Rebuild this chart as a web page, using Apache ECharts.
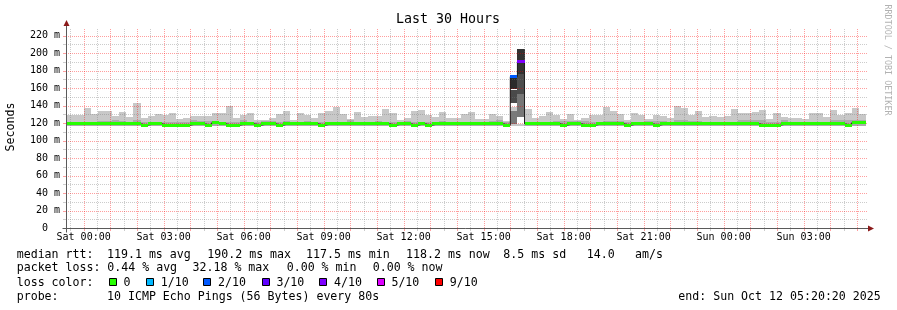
<!DOCTYPE html>
<html><head><meta charset="utf-8">
<script src="https://cdn.jsdelivr.net/npm/echarts@6/dist/echarts.min.js"></script>
<style>html,body{margin:0;padding:0;background:#fff}#c{width:897px;height:310px}</style>
</head><body><div id="c"></div>
<script>
// ---------- DATA ----------
// 16-minute bins, bin index k relative to Sat 00:00 (first bin k = -3)
const FIRST_BIN = -3;
const BIN_MINUTES = 16;
// graph window: Fri 23:20:20 .. Sun 05:20:20 (hours relative to Sat 00:00)
const X_START_HOURS = -2380 / 3600;
const X_SPAN_HOURS = 30;

// top of smoke (max ping, ms) per bin
const smokeMax = [
  129, 129, 129,
  136.8, 130.7, 133.4, 133.4, 128, 132.2, 126.5, 142.8, 125.4, 128,
  130, 129, 131, 124.2, 125.4, 128, 127.5, 128, 131.4, 131.4,
  139.4, 125.4, 129, 131, 123, 123, 126, 130.3, 133.4, 123,
  131, 129, 125.4, 131, 134.1, 138, 130.3, 125, 132.2, 126.9,
  128, 128, 135.6, 131, 123, 125.4, 133.4, 134.5, 129, 126.9,
  132.2, 125.4, 125.4, 130, 132.6, 124.2, 124.2, 130, 127.7, 122,
  171.3, 205, 135.6, 126.2, 127.7, 132.2, 128.8, 124.2, 130, 123,
  125.4, 129.2, 129.2, 138, 133.4, 130, 123, 131, 128.8, 124.2,
  128.8, 127.7, 125.4, 139.4, 136.8, 129.2, 133.4, 126.5, 127.7, 126.5,
  128, 135.6, 131.4, 131.4, 132.2, 134.5, 124.2, 131, 126.9, 125.5,
  125.5, 124.2, 131, 131, 126.5, 134.5, 129, 131, 136.8, 130
];
// top of the denser inner smoke band (ms)
const smokeMid = [
  121, 121, 121,
  121, 121, 122.5, 122.5, 123.5, 122, 121, 123, 121, 121,
  121, 121, 121, 121, 121, 123.5, 122.5, 122.5, 121, 121,
  121, 121, 123, 121, 121, 122, 122, 121, 122.5, 121,
  121, 122.5, 121, 121, 121, 121, 121, 123, 121, 121,
  121, 122.5, 121, 121, 121, 122, 121, 121, 121, 121,
  122, 121, 121, 121, 121, 121, 121, 122.5, 123, 121,
  121, 121, 121, 121, 121, 121, 122, 122, 122, 122,
  122, 121, 121, 122.5, 122.5, 122.5, 121, 121, 121, 122,
  122, 122, 121, 123.3, 123.3, 122, 122, 121, 121, 121,
  121, 121, 123, 123, 123, 123, 121, 121, 123.5, 121,
  121, 121, 121, 121, 121, 123, 123, 123.5, 123.5, 123.5
];
// bottom of smoke (min ping, ms)
const smokeMin = [
  117, 117, 117,
  117, 117, 117, 117, 117, 117, 117, 117, 117, 117,
  117, 117, 117, 117, 117, 117, 117, 117, 117, 117,
  117, 117, 117, 117, 117, 117, 117, 117, 117, 117,
  117, 117, 117, 117, 117, 117, 117, 117, 117, 117,
  117, 117, 117, 117, 117, 117, 117, 117, 117, 117,
  117, 117, 117, 117, 117, 117, 117, 117, 117, 117,
  116.3, 116.3, 117, 117, 117, 117, 117, 117, 117, 117,
  117, 117, 117, 117, 117, 117, 117, 117, 117, 117,
  117, 117, 117, 117, 117, 117, 117, 117, 117, 117,
  117, 117, 117, 117, 117, 117, 117, 117, 117, 117,
  117, 117, 117, 117, 117, 117, 117, 117, 117, 117
];
// median rtt (ms)
const median = [
  119, 119, 119,
  119, 119, 119, 119, 119, 119, 119, 119, 117.6, 119,
  119, 117.6, 117.6, 117.6, 117.6, 119, 119, 117.6, 120.2, 119,
  117.6, 117.6, 119, 119, 117.6, 119, 119, 117.6, 119, 119,
  119, 119, 119, 117.6, 119, 119, 119, 119, 119, 119,
  119, 119, 119, 117.6, 119, 119, 117.6, 119, 117.6, 119,
  119, 119, 119, 119, 119, 119, 119, 119, 119, 117.6,
  173, 190.2, 119, 119, 119, 119, 119, 117.6, 119, 119,
  117.6, 117.6, 119, 119, 119, 119, 117.6, 119, 119, 119,
  117.6, 119, 119, 119, 119, 119, 119, 119, 119, 119,
  119, 119, 119, 119, 119, 117.6, 117.6, 117.6, 119, 119,
  119, 119, 119, 119, 119, 119, 119, 117.6, 120.2, 120.2
];
// packet loss (%)
const lossPct = [
  0, 0, 0,
  0, 0, 0, 0, 0, 0, 0, 0, 0, 0,
  0, 0, 0, 0, 0, 0, 0, 0, 0, 0,
  0, 0, 0, 0, 0, 0, 0, 0, 0, 0,
  0, 0, 0, 0, 0, 0, 0, 0, 0, 0,
  0, 0, 0, 0, 0, 0, 0, 0, 0, 0,
  0, 0, 0, 0, 0, 0, 0, 0, 0, 0,
  20, 32.18, 0, 0, 0, 0, 0, 0, 0, 0,
  0, 0, 0, 0, 0, 0, 0, 0, 0, 0,
  0, 0, 0, 0, 0, 0, 0, 0, 0, 0,
  0, 0, 0, 0, 0, 0, 0, 0, 0, 0,
  0, 0, 0, 0, 0, 0, 0, 0, 0, 0
];
// smoke bands (ms, bottom->top) of the two lossy bins around the spike
const spikeBands60 = [[116.3, 119.4], [119.4, 133.8], [133.8, 138.3], [142.8, 158.1], [159.2, 171.3]];
const spikeBands61 = [[116.3, 119.3], [127, 153.5], [153.5, 176.3], [176.3, 205]];

const xTickHours = [0, 3, 6, 9, 12, 15, 18, 21, 24, 27];
const xTickLabels = ['Sat 00:00', 'Sat 03:00', 'Sat 06:00', 'Sat 09:00', 'Sat 12:00', 'Sat 15:00', 'Sat 18:00', 'Sat 21:00', 'Sun 00:00', 'Sun 03:00'];
const yTickValues = [0, 20, 40, 60, 80, 100, 120, 140, 160, 180, 200, 220];
const lossKeys = [0, 1, 2, 3, 4, 5, 9];
const lossLabels = ['0', '1/10', '2/10', '3/10', '4/10', '5/10', '9/10'];
const statsMedian = ['median rtt:', '119.1 ms avg', '190.2 ms max', '117.5 ms min', '118.2 ms now', '8.5 ms sd', '14.0', 'am/s'];
const statsLoss = ['packet loss:', '0.44 % avg', '32.18 % max', '0.00 % min', '0.00 % now'];
const probeText = ['probe:', '10 ICMP Echo Pings (56 Bytes) every 80s', 'end: Sun Oct 12 05:20:20 2025'];
const titleText = 'Last 30 Hours';
const yName = 'Seconds';
const watermark = 'RRDTOOL / TOBI OETIKER';

// ---------- STYLE ----------
const MONO = '"DejaVu Sans Mono", monospace';
const LIGHT = '#c8c8c8', MIDGRAY = '#ababab';
const lossColors = ['#26ff00', '#00b8ff', '#0059ff', '#5e00ff', '#7e00ff', '#dd00ff', '#ff0000'];
const spikeShades = {60: ['#c8c8c8', '#7a7a7a', '#c8c8c8', '#4a4a4a', '#2b2b2b'], 61: ['#c8c8c8', '#777777', '#4d4d4d', '#333333']};
const spikeBands = {60: spikeBands60, 61: spikeBands61};
const MAJOR = 'rgba(255,0,0,0.38)', MINOR = 'rgba(120,120,120,0.38)';

const X_MIN = X_START_HOURS, X_MAX = X_START_HOURS + X_SPAN_HOURS, Y_MAX = 228.6;

function lossColor(p) {
  const t = p / 10;
  if (t <= 0) return lossColors[0];
  for (let j = 1; j < lossKeys.length; j++) if (t <= lossKeys[j] + 1e-9) return lossColors[j];
  return lossColors[lossColors.length - 1];
}

const binData = smokeMax.map((hi, i) => {
  const k = FIRST_BIN + i;
  const x0 = Math.max(X_MIN, k * BIN_MINUTES / 60);
  const x1 = Math.min(X_MAX, (k + 1) * BIN_MINUTES / 60);
  return [x0, x1, smokeMin[i], smokeMid[i], hi, k, median[i], lossPct[i]];
});
const stepData = binData.map(d => [d[0], d[6]]);
stepData.push([X_MAX, median[median.length - 1]]);

function renderSmoke(params, api) {
  const x0 = api.value(0), x1 = api.value(1), k = api.value(5);
  const px0 = Math.round(api.coord([x0, 0])[0]), px1 = Math.round(api.coord([x1, 0])[0]);
  const band = (lo, hi, fill) => {
    const yb = Math.round(api.coord([x0, lo])[1]), yt = Math.round(api.coord([x0, hi])[1]);
    return {type: 'rect', shape: {x: px0, y: yt, width: px1 - px0, height: yb - yt}, style: {fill: fill}};
  };
  const children = [];
  if (spikeBands[k]) {
    spikeBands[k].forEach((b, j) => children.push(band(b[0], b[1], spikeShades[k][j])));
  } else {
    children.push(band(api.value(2), api.value(4), LIGHT));
    children.push(band(api.value(2), api.value(3), MIDGRAY));
  }
  return {type: 'group', children: children};
}

function renderMedian(params, api) {
  const x0 = api.value(0), x1 = api.value(1);
  const px0 = Math.round(api.coord([x0, 0])[0]), px1 = Math.round(api.coord([x1, 0])[0]);
  const yc = api.coord([x0, api.value(6)])[1];
  return {type: 'rect', shape: {x: px0, y: Math.round(yc - 1.5), width: px1 - px0, height: 3},
    style: {fill: lossColor(api.value(7))}};
}

// grid line positions (every half hour / every 10 ms)
const vLines = [];
for (let h = -0.5; h < X_MAX; h += 0.5) if (h > X_MIN) vLines.push([h]);
const hLines = [];
for (let v = 10; v <= 220; v += 10) hLines.push([v]);

function renderV(params, api) {
  const h = api.value(0);
  const major = Math.abs(h - Math.round(h)) < 1e-6;
  const x = Math.round(api.coord([h, 0])[0]) + 0.5;
  const yb = api.coord([h, 0])[1], yt = api.coord([h, Y_MAX])[1];
  const c = major ? MAJOR : MINOR;
  return {type: 'group', children: [
    {type: 'line', shape: {x1: x, y1: yb, x2: x, y2: yt}, style: {stroke: c, lineWidth: 1, lineDash: [1, 1]}},
    {type: 'line', shape: {x1: x, y1: yb, x2: x, y2: yb + 3}, style: {stroke: c, lineWidth: 1}}
  ]};
}
function renderH(params, api) {
  const v = api.value(0);
  const major = v % 20 === 0;
  const y = Math.round(api.coord([X_MIN, v])[1]) + 0.5;
  const xl = api.coord([X_MIN, v])[0], xr = api.coord([X_MAX, v])[0];
  const c = major ? MAJOR : MINOR;
  return {type: 'group', children: [
    {type: 'line', shape: {x1: xl, y1: y, x2: xr + 2, y2: y}, style: {stroke: c, lineWidth: 1, lineDash: [1, 1]}},
    {type: 'line', shape: {x1: xl - 3, y1: y, x2: xl, y2: y}, style: {stroke: c, lineWidth: 1}}
  ]};
}

const chart = echarts.init(document.getElementById('c'), null, {renderer: 'canvas'});
chart.setOption({
  animation: false,
  backgroundColor: '#ffffff',
  grid: {left: 66, right: 31, top: 28, bottom: 82, containLabel: false},
  xAxis: {
    type: 'value', min: X_MIN, max: X_MAX,
    axisLine: {show: false}, axisTick: {show: false}, splitLine: {show: false},
    axisLabel: {
      customValues: xTickHours,
      formatter: v => { const j = xTickHours.indexOf(Math.round(v)); return j >= 0 ? xTickLabels[j] : ''; },
      fontFamily: MONO, fontSize: 10, color: '#000', margin: 4
    }
  },
  yAxis: {
    type: 'value', min: 0, max: Y_MAX,
    axisLine: {show: false}, axisTick: {show: false}, splitLine: {show: false},
    axisLabel: {
      customValues: yTickValues,
      formatter: v => v === 0 ? '0  ' : (v % 20 === 0 ? v + ' m' : ''),
      fontFamily: MONO, fontSize: 10, color: '#000', margin: 6
    }
  },
  series: [
    {type: 'custom', name: 'smoke', renderItem: renderSmoke, data: binData, encode: {x: [0, 1], y: [2, 4]}, silent: true, z: 2},
    {type: 'custom', name: 'vgrid', renderItem: renderV, data: vLines, encode: {x: 0}, silent: true, z: 3},
    {type: 'custom', name: 'hgrid', renderItem: renderH, data: hLines, encode: {y: 0}, silent: true, z: 3},
    {type: 'line', name: 'medianStep', data: stepData, step: 'end', showSymbol: false, symbol: 'none',
      lineStyle: {color: '#202020', width: 1}, silent: true, z: 4},
    {type: 'custom', name: 'median', renderItem: renderMedian, data: binData, encode: {x: [0, 1], y: 6}, silent: true, z: 5}
  ]
});

// axes, arrows and text
const o = chart.convertToPixel({gridIndex: 0}, [X_MIN, 0]);
const e = chart.convertToPixel({gridIndex: 0}, [X_MAX, Y_MAX]);
const AX = '#5a5a5a', ARROW = '#8b1a1a';
const ax = Math.round(o[0]) + 0.5, ay = Math.round(o[1]) + 0.5;
const txt = (x, y, s, font) => ({type: 'text', x: x, y: y, z: 10,
  style: {text: s, font: font, fill: '#000', align: 'left', verticalAlign: 'middle', textAlign: 'left', textVerticalAlign: 'middle'}});
const ctxt = (x, y, s, font, rot, fill) => ({type: 'text', x: x, y: y, rotation: rot, z: 10,
  style: {text: s, font: font, fill: fill, align: 'center', verticalAlign: 'middle', textAlign: 'center', textVerticalAlign: 'middle'}});
const LEG = '11.6px ' + MONO;
const graphic = [
  {type: 'line', z: 9, shape: {x1: ax, y1: ay + 4, x2: ax, y2: e[1] - 2}, style: {stroke: AX, lineWidth: 1}},
  {type: 'line', z: 9, shape: {x1: ax - 4, y1: ay, x2: e[0] + 2, y2: ay}, style: {stroke: AX, lineWidth: 1}},
  {type: 'polygon', z: 9, shape: {points: [[ax - 3, e[1] - 2], [ax + 3, e[1] - 2], [ax, e[1] - 8]]}, style: {fill: ARROW}},
  {type: 'polygon', z: 9, shape: {points: [[e[0] + 2, ay - 3], [e[0] + 2, ay + 3], [e[0] + 8, ay]]}, style: {fill: ARROW}},
  ctxt(448, 20, titleText, '13.3px ' + MONO, 0, '#000'),
  ctxt(11, 127, yName, '11.6px ' + MONO, Math.PI / 2, '#000'),
  ctxt(887, 60, watermark, '8.4px ' + MONO, -Math.PI / 2, '#b2b2b2')
];
const line1X = [16.7, 107, 207.3, 306, 406, 503.3, 586.7, 635];
statsMedian.forEach((s, i) => graphic.push(txt(line1X[i], 254.7, s, LEG)));
const line2X = [16.7, 107.3, 192.5, 286.7, 372.7];
statsLoss.forEach((s, i) => graphic.push(txt(line2X[i], 268.3, s, LEG)));
graphic.push(txt(16.7, 282.7, 'loss color:', LEG));
const boxX = [108.7, 146, 203.3, 261.7, 319.3, 376.7, 435];
lossLabels.forEach((s, i) => {
  graphic.push({type: 'rect', z: 10, shape: {x: Math.round(boxX[i]) + 0.5, y: 278.5, width: 7, height: 7},
    style: {fill: lossColors[i], stroke: '#000', lineWidth: 1}});
  graphic.push(txt(boxX[i] + 14.7, 282.7, s, LEG));
});
const line4X = [16.7, 107, 678.3];
probeText.forEach((s, i) => graphic.push(txt(line4X[i], 296.7, s, LEG)));
chart.setOption({graphic: graphic});
</script>
</body></html>
